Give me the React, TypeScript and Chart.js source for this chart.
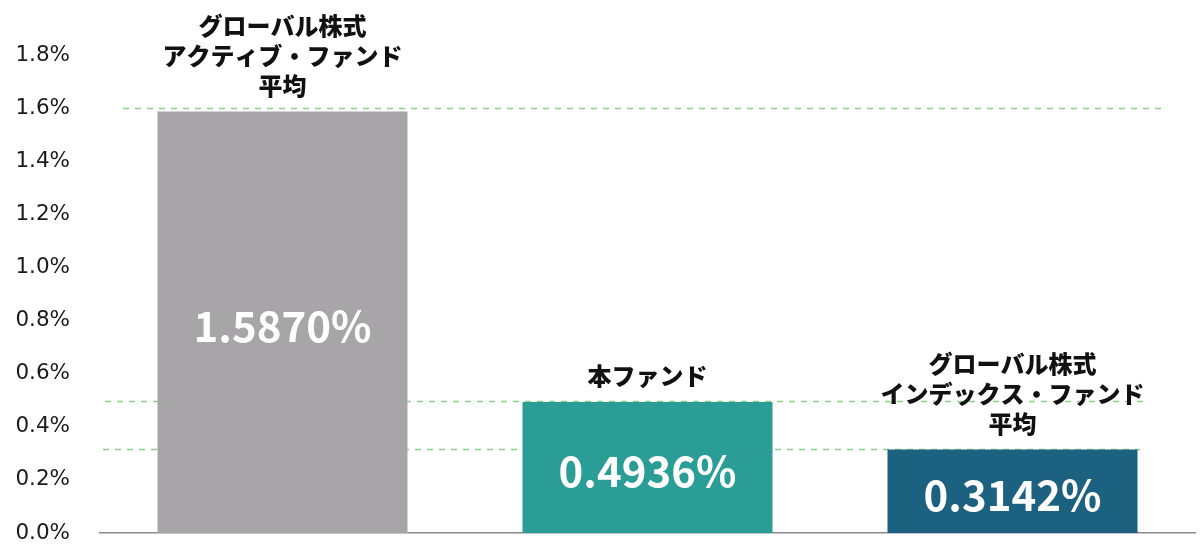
import React, { useEffect, useRef } from "react";
import { Chart, registerables } from "chart.js";

Chart.register(...registerables);

const categories: string[][] = [
  ["グローバル株式", "アクティブ・ファンド", "平均"],
  ["本ファンド"],
  ["グローバル株式", "インデックス・ファンド", "平均"],
];
const values: number[] = [1.587, 0.4936, 0.3142];
const valueLabels: string[] = ["1.5870%", "0.4936%", "0.3142%"];
const barColors: string[] = ["#a8a5a9", "#2a9d96", "#1d6180"];
const yMin = 0;
const yMax = 1.8;
const yStep = 0.2;

const FONT = "'Noto Sans CJK JP', 'Noto Sans', sans-serif";

// dashed reference lines at each bar's value; extents/offsets are style only
const refLineStyle = [
  { left: 23, right: 32, dy: -4 },
  { left: 5, right: 52, dy: -1 },
  { left: 3, right: 55, dy: -1 },
];

const overlayPlugin = {
  id: "overlay",
  beforeDatasetsDraw(chart: any) {
    const { ctx, chartArea } = chart;
    const y = chart.scales.y;
    ctx.save();
    ctx.strokeStyle = "#86cf86";
    ctx.lineWidth = 1.5;
    ctx.setLineDash([6, 6]);
    values.forEach((v, i) => {
      const s = refLineStyle[i];
      const py = Math.round(y.getPixelForValue(v)) + s.dy + 0.5;
      ctx.beginPath();
      ctx.moveTo(chartArea.left + s.left, py);
      ctx.lineTo(chartArea.right - s.right, py);
      ctx.stroke();
    });
    ctx.restore();
  },
  afterDatasetsDraw(chart: any) {
    const { ctx } = chart;
    const meta = chart.getDatasetMeta(0);
    ctx.save();
    meta.data.forEach((bar: any, i: number) => {
      const base = bar.base;
      const top = bar.y;
      // value label inside bar
      ctx.fillStyle = "#ffffff";
      ctx.font = `bold 42px ${FONT}`;
      ctx.textAlign = "center";
      ctx.textBaseline = "middle";
      ctx.fillText(valueLabels[i], bar.x, (base + top) / 2 + 4);
      // category label above bar
      ctx.fillStyle = "#111111";
      ctx.font = `900 24px ${FONT}`;
      const lines = categories[i];
      const lh = 30;
      lines.forEach((ln, j) => {
        const cy = top - 26 - (lines.length - 1 - j) * lh;
        ctx.fillText(ln, bar.x, cy);
      });
    });
    ctx.restore();
  },
};

export default function App() {
  const ref = useRef<HTMLCanvasElement | null>(null);
  useEffect(() => {
    if (!ref.current) return;
    const chart = new Chart(ref.current, {
      type: "bar",
      data: {
        labels: categories.map((c) => c.join("")),
        datasets: [
          {
            data: values,
            backgroundColor: barColors,
            barPercentage: 0.685,
            categoryPercentage: 1,
          },
        ],
      },
      options: {
        responsive: false,
        animation: false,
        layout: { padding: { top: 55, bottom: 27, left: 0, right: 5 } },
        plugins: { legend: { display: false }, tooltip: { enabled: false } },
        scales: {
          x: {
            afterFit(scale: any) {
              scale.height = 0;
            },
            grid: { display: false, drawTicks: false },
            border: { display: true, color: "#8a8a8a", width: 1.5 },
            ticks: { display: false },
          },
          y: {
            min: yMin,
            max: yMax,
            afterFit(scale: any) {
              scale.width = 100;
              scale.paddingTop = 0;
              scale.paddingBottom = 0;
            },
            grid: { display: false, drawTicks: false },
            border: { display: false },
            ticks: {
              stepSize: yStep,
              padding: 30,
              color: "#1a1a1a",
              font: { family: "'DejaVu Sans', sans-serif", size: 21.5 },
              callback: (v: any) => Number(v).toFixed(1) + "%",
            },
          },
        },
      },
      plugins: [overlayPlugin],
    });
    return () => chart.destroy();
  }, []);
  return (
    <div style={{ position: "fixed", left: 0, top: 0, width: 1200, height: 560, background: "#fff" }}>
      <canvas ref={ref} width={1200} height={560} />
    </div>
  );
}
